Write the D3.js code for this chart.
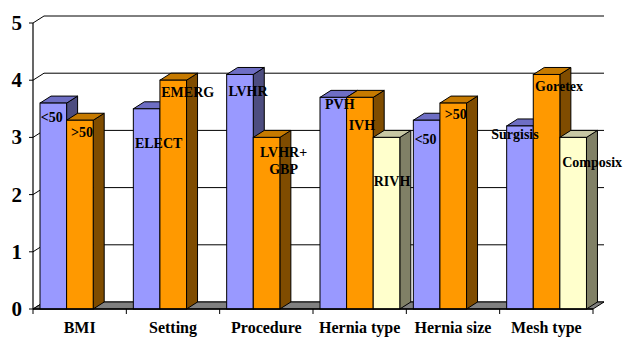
<!DOCTYPE html>
<html>
<head>
<meta charset="utf-8">
<script src="https://cdn.jsdelivr.net/npm/d3@7"></script>
<style>
  html, body { margin: 0; padding: 0; background: #fff; }
  svg { display: block; }
</style>
</head>
<body>
<svg id="chart" width="623" height="337"></svg>
<script>
// Category groups along the x axis
const categories = ["BMI", "Setting", "Procedure", "Hernia type", "Hernia size", "Mesh type"];

// Three series slots per group (null = no bar in that slot)
const series1 = [3.6, 3.5, 4.1, 3.7, 3.3, 3.2];
const series2 = [3.3, 4.0, 3.0, 3.7, 3.6, 4.1];
const series3 = [null, null, null, 3.0, null, 3.0];

// Names written on each bar
const names1 = ["<50", "ELECT", "LVHR", "PVH", "<50", "Surgisis"];
const names2 = [">50", "EMERG", "LVHR+|GBP", "IVH", ">50", "Goretex"];
const names3 = [null, null, null, "RIVH", null, "Composix"];

// Y axis ticks
const yTicks = [0, 1, 2, 3, 4, 5];

// Label placement relative to the bar's top-centre (px)
const nudge1 = [[-1.5, 14], [12, 34], [8, 17], [6.5, 7], [-1, 19], [-5, 8]];
const nudge2 = [[2, 12], [14.5, 12], [17, 15], [2, 28], [2.5, 11], [12.5, 12]];
const nudge3 = [null, null, null, [5.5, 44], null, [19, 25]];

const FONT = "'Liberation Serif', 'Times New Roman', Times, 'DejaVu Serif', serif";

const svg = d3.select("#chart")
  .attr("font-family", FONT)
  .attr("font-weight", "bold");

// 3D depth offset of the plot box
const DX = 11, DY = -7;

const x = d3.scaleBand().domain(categories).range([33, 593]).padding(0);
const y = d3.scaleLinear().domain([0, 5]).range([309, 23]);
const slot = d3.scaleLinear().domain([0, 3]).range([0.075, 0.075 + 3 * 0.285]);

const styles = [
  { front: "#9999FF", top: "#6E6EC4", side: "#4D4D80" },
  { front: "#FF9900", top: "#C67A00", side: "#7F4C00" },
  { front: "#FFFFCC", top: "#C8C8A4", side: "#808066" }
];

// Back wall gridlines with the slanted stretch across the left wall
const grid = svg.append("g");
yTicks.forEach(v => {
  grid.append("line")
    .attr("x1", 33 + DX).attr("x2", 593 + DX)
    .attr("y1", y(v) + DY).attr("y2", y(v) + DY)
    .attr("stroke", "#000").attr("stroke-width", 1);
  grid.append("line")
    .attr("x1", 33).attr("x2", 33 + DX)
    .attr("y1", y(v)).attr("y2", y(v) + DY)
    .attr("stroke", "#000").attr("stroke-width", 1);
});

// Floor
svg.append("polygon")
  .attr("points", [[33, y(0)], [593, y(0)], [593 + DX, y(0) + DY], [33 + DX, y(0) + DY]].join(" "))
  .attr("fill", "#808080").attr("stroke", "#000").attr("stroke-width", 1);

// Bars
const allSeries = [series1, series2, series3];
const bw = x.bandwidth();
const barW = 0.285 * bw;
const bars = svg.append("g");

categories.forEach((c, ci) => {
  allSeries.forEach((s, si) => {
    const v = s[ci];
    if (v == null) return;
    const x0 = x(c) + slot(si) * bw;
    const yt = y(v), yb = y(0);
    const st = styles[si];
    const g = bars.append("g");
    g.append("polygon")
      .attr("points", [[x0 + barW, yt], [x0 + barW + DX, yt + DY], [x0 + barW + DX, yb + DY], [x0 + barW, yb]].join(" "))
      .attr("fill", st.side).attr("stroke", "#000").attr("stroke-width", 1).attr("stroke-linejoin", "round");
    g.append("polygon")
      .attr("points", [[x0, yt], [x0 + DX, yt + DY], [x0 + barW + DX, yt + DY], [x0 + barW, yt]].join(" "))
      .attr("fill", st.top).attr("stroke", "#000").attr("stroke-width", 1).attr("stroke-linejoin", "round");
    g.append("rect")
      .attr("x", x0).attr("y", yt).attr("width", barW).attr("height", yb - yt)
      .attr("fill", st.front).attr("stroke", "#000").attr("stroke-width", 1);
  });
});

// Front axes
svg.append("line").attr("x1", 33).attr("x2", 33).attr("y1", y(5)).attr("y2", y(0))
  .attr("stroke", "#000").attr("stroke-width", 1.2);
svg.append("line").attr("x1", 33).attr("x2", 593).attr("y1", y(0)).attr("y2", y(0))
  .attr("stroke", "#000").attr("stroke-width", 1.5);

// Y ticks and labels
yTicks.forEach(v => {
  svg.append("line").attr("x1", 29).attr("x2", 33).attr("y1", y(v)).attr("y2", y(v))
    .attr("stroke", "#000").attr("stroke-width", 1);
  svg.append("text").attr("x", 22).attr("y", y(v) + 7)
    .attr("text-anchor", "end").attr("font-size", 21).text(v);
});

// X ticks at category boundaries and category labels
categories.concat([null]).forEach(c => {
  const xv = c ? x(c) : 593;
  svg.append("line").attr("x1", xv).attr("x2", xv).attr("y1", y(0)).attr("y2", y(0) + 5)
    .attr("stroke", "#000").attr("stroke-width", 1);
});
categories.forEach(c => {
  svg.append("text").attr("x", x(c) + bw / 2).attr("y", 333)
    .attr("text-anchor", "middle").attr("font-size", 16).text(c);
});

// Names on the bars
const allNames = [names1, names2, names3];
const allNudges = [nudge1, nudge2, nudge3];
categories.forEach((c, ci) => {
  allSeries.forEach((s, si) => {
    const v = s[ci];
    const name = allNames[si][ci];
    if (v == null || !name) return;
    const cx = x(c) + slot(si) * bw + barW / 2 + allNudges[si][ci][0];
    const cy = y(v) + allNudges[si][ci][1];
    const lines = name.split("|");
    const t = svg.append("text").attr("text-anchor", "middle").attr("font-size", 14);
    lines.forEach((ln, li) => {
      t.append("tspan").attr("x", cx).attr("y", cy + 5 + li * 17).text(ln);
    });
  });
});
</script>
</body>
</html>
